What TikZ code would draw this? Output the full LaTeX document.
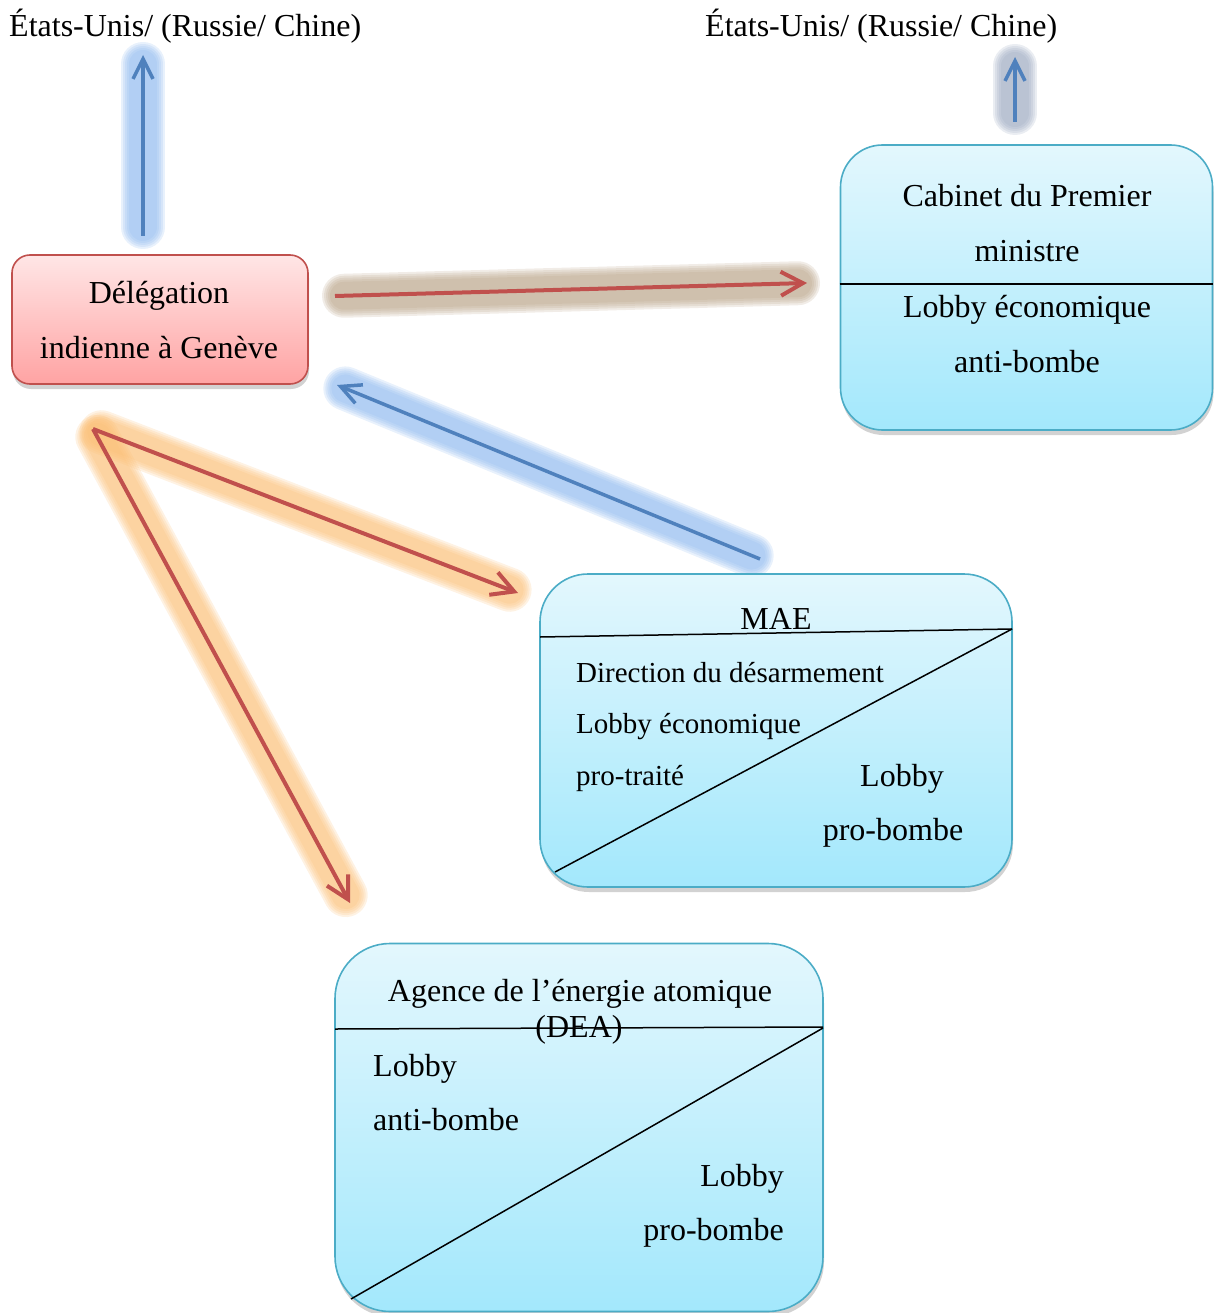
\documentclass[tikz,border=0pt]{standalone}
\usepackage{fontspec}
\setmainfont{Liberation Serif}
\usetikzlibrary{arrows.meta,shadows,calc}
\definecolor{redline}{HTML}{C0504D}
\definecolor{blueline}{HTML}{4F81BD}
\definecolor{cyanborder}{HTML}{4BACC6}
\definecolor{cyantop}{HTML}{E3F7FD}
\definecolor{cyanbot}{HTML}{A3E8FC}
\definecolor{pinktop}{HTML}{FFE6E6}
\definecolor{pinkbot}{HTML}{FFA3A3}
\definecolor{glowblue}{HTML}{8DB8EE}
\definecolor{glowgray}{HTML}{98A6BE}
\definecolor{glowtan}{HTML}{B8A286}
\definecolor{gloworange}{HTML}{FBBE74}
\newcommand\myglow[3]{%
  \foreach \w in {44,40,36,32,28}{%
    \draw[#1, line width=\w pt, opacity=0.2, line cap=round, shorten <=9pt, shorten >=9pt] (#2) -- (#3);
  }%
}
\tikzset{
  txt/.style={font=\fontsize{32}{38}\selectfont, inner sep=0pt, anchor=base},
  txtw/.style={txt, anchor=base west},
  txte/.style={txt, anchor=base east},
  smalltxt/.style={font=\fontsize{29}{35}\selectfont, inner sep=0pt, anchor=base west},
  boxshadow/.style={drop shadow={shadow xshift=1pt, shadow yshift=-5pt, opacity=0.25, fill=black!70}},
  cyanbox/.style={draw=cyanborder, line width=1.6pt, top color=cyantop, bottom color=cyanbot, boxshadow, inner sep=0pt},
  pinkbox/.style={draw=redline, line width=1.6pt, top color=pinktop, bottom color=pinkbot, rounded corners=18pt, boxshadow, inner sep=0pt},
  divider/.style={line width=1.5pt, black},
  redarrow/.style={draw=redline, line width=4pt, -{Straight Barb[length=22pt,width=24pt]}},
  bluearrow/.style={draw=blueline, line width=3.5pt, -{Straight Barb[length=20pt,width=20pt]}},
}
\begin{document}
\begin{tikzpicture}[x=1pt,y=-1pt]
\useasboundingbox (0,0) rectangle (1219,1313);

% arrow end points
\coordinate (a1s) at (143,236); \coordinate (a1e) at (143,55);
\coordinate (a2s) at (1015,122); \coordinate (a2e) at (1015,57);
\coordinate (a3s) at (335,296); \coordinate (a3e) at (807,283);
\coordinate (a4s) at (760,559); \coordinate (a4e) at (337,385);
\coordinate (a5s) at (93,429);  \coordinate (a5e) at (518,593);
\coordinate (a6e) at (350,903);

% glows
\myglow{glowblue}{a1s}{a1e}
\myglow{glowgray}{a2s}{a2e}
\myglow{glowtan}{a3s}{a3e}
\myglow{glowblue}{a4s}{a4e}
\myglow{gloworange}{a5s}{a5e}
\myglow{gloworange}{a5s}{a6e}

% top labels
\node[txtw] (us1) at (9,37) {États-Unis/ (Russie/ Chine)};
\node[txtw] (us2) at (705,37) {États-Unis/ (Russie/ Chine)};

% Delegation
\node[pinkbox, minimum width=296pt, minimum height=129pt] (deleg) at (160,319.5) {};
\node[txt] (d1) at (159,303) {Délégation};
\node[txt] (d2) at (159,358) {indienne à Genève};

% Cabinet
\node[cyanbox, rounded corners=42pt, minimum width=372pt, minimum height=285pt] (cab) at (1026.5,287.5) {};
\draw[divider] (cab.west |- 0,284) -- (cab.east |- 0,284);
\node[txt] (c1) at (1027,207) {Cabinet du Premier};
\node[txt] (c2) at (1027,262) {ministre};
\node[txt] (c3) at (1027,317) {Lobby économique};
\node[txt] (c4) at (1027,372) {anti-bombe};

% MAE
\node[cyanbox, rounded corners=48pt, minimum width=472pt, minimum height=313pt] (mae) at (776,730.5) {};
\draw[divider] (540,637) -- (1012,629);
\draw[divider] (555,872) -- (1012,629);
\node[txt] (m0) at (776,629) {MAE};
\node[smalltxt] (m1) at (576,682) {Direction du désarmement};
\node[smalltxt] (m2) at (576,733) {Lobby économique};
\node[smalltxt] (m3) at (576,785) {pro-traité};
\node[txt] (m4) at (902,786) {Lobby};
\node[txt] (m5) at (893,840) {pro-bombe};

% DEA
\node[cyanbox, rounded corners=55pt, minimum width=488pt, minimum height=368pt] (dea) at (579,1127.5) {};
\draw[divider] (335,1029) -- (823,1027);
\draw[divider] (351,1299) -- (823,1028);
\node[txt] (e0) at (580,1001) {Agence de l’énergie atomique};
\node[txt] (e1) at (579,1037) {(DEA)};
\node[txtw] (e2) at (373,1076) {Lobby};
\node[txtw] (e3) at (373,1130) {anti-bombe};
\node[txte] (e4) at (784,1186) {Lobby};
\node[txte] (e5) at (784,1240) {pro-bombe};

% arrows
\draw[bluearrow] (a1s) -- (a1e);
\draw[bluearrow] (a2s) -- (a2e);
\draw[redarrow] (a3s) -- (a3e);
\draw[bluearrow] (a4s) -- (a4e);
\draw[redarrow] (a5s) -- (a5e);
\draw[redarrow] (a5s) -- (a6e);
\end{tikzpicture}
\end{document}
